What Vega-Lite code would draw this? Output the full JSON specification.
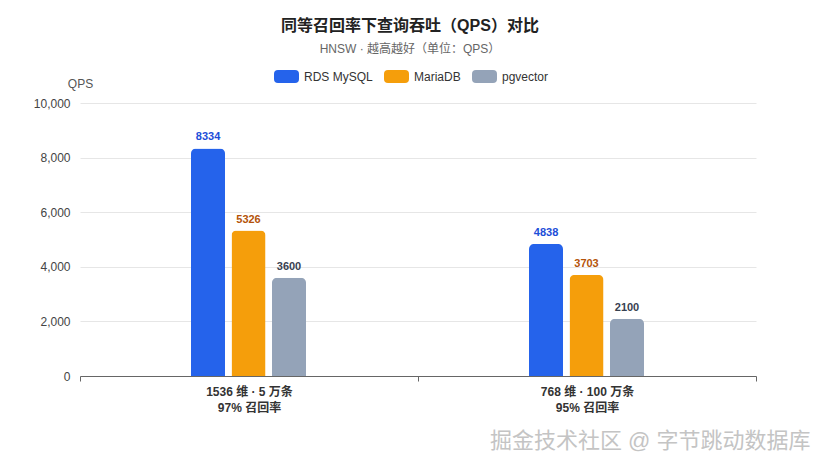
{
  "$schema": "https://vega.github.io/schema/vega-lite/v6.json",
  "width": 676,
  "height": 273,
  "autosize": {"type": "none"},
  "padding": {"left": 80, "top": 103, "right": 63, "bottom": 91},
  "background": "white",
  "title": {
    "text": "同等召回率下查询吞吐（QPS）对比",
    "subtitle": "HNSW · 越高越好（单位：QPS）",
    "fontSize": 16,
    "fontWeight": "bold",
    "color": "#222222",
    "subtitleFontSize": 12,
    "subtitleColor": "#666666",
    "subtitlePadding": 10,
    "anchor": "middle",
    "frame": "group",
    "dx": -8,
    "offset": 9
  },
  "data": {
    "values": [
      {"group": "1536 维 · 5 万条|97% 召回率", "series": "RDS MySQL", "qps": 8334},
      {"group": "1536 维 · 5 万条|97% 召回率", "series": "MariaDB", "qps": 5326},
      {"group": "1536 维 · 5 万条|97% 召回率", "series": "pgvector", "qps": 3600},
      {"group": "768 维 · 100 万条|95% 召回率", "series": "RDS MySQL", "qps": 4838},
      {"group": "768 维 · 100 万条|95% 召回率", "series": "MariaDB", "qps": 3703},
      {"group": "768 维 · 100 万条|95% 召回率", "series": "pgvector", "qps": 2100}
    ]
  },
  "encoding": {
    "x": {
      "field": "group",
      "type": "nominal",
      "sort": null,
      "scale": {"paddingInner": 0, "paddingOuter": 0},
      "axis": {
        "title": "掘金技术社区 @ 字节跳动数据库",
        "titleFontSize": 22,
        "titleFontWeight": "normal",
        "titleColor": "#c4c4c4",
        "titleAlign": "right",
        "titleBaseline": "middle",
        "titleX": 730,
        "titleY": 64,
        "labelAngle": 0,
        "labelExpr": "split(datum.label, '|')",
        "labelFontSize": 12,
        "labelFontWeight": "bold",
        "labelColor": "#333333",
        "labelLineHeight": 16,
        "labelPadding": 5,
        "tickSize": 5,
        "tickBand": "extent",
        "tickColor": "#666666",
        "domainColor": "#666666"
      }
    },
    "xOffset": {
      "field": "series",
      "type": "nominal",
      "scale": {
        "domain": ["RDS MySQL", "MariaDB", "pgvector"],
        "range": [111, 226],
        "paddingInner": 0.16,
        "paddingOuter": 0
      }
    },
    "y": {
      "field": "qps",
      "type": "quantitative",
      "scale": {"domain": [0, 10000]},
      "axis": {
        "title": "QPS",
        "titleAngle": 0,
        "titleX": 0,
        "titleY": -20,
        "titleAlign": "center",
        "titleBaseline": "middle",
        "titleFontSize": 12,
        "titleFontWeight": "normal",
        "titleColor": "#555555",
        "values": [0, 2000, 4000, 6000, 8000, 10000],
        "format": ",d",
        "labelFontSize": 12,
        "labelColor": "#444444",
        "labelPadding": 10,
        "domain": false,
        "ticks": false,
        "gridColor": "#e6e6e6"
      }
    }
  },
  "layer": [
    {
      "mark": {"type": "bar", "cornerRadiusTopLeft": 5, "cornerRadiusTopRight": 5},
      "encoding": {
        "color": {
          "field": "series",
          "type": "nominal",
          "scale": {
            "domain": ["RDS MySQL", "MariaDB", "pgvector"],
            "range": ["#2563eb", "#f59e0b", "#94a3b8"]
          },
          "legend": {
            "title": null,
            "orient": "none",
            "direction": "horizontal",
            "legendX": 194,
            "legendY": -39,
            "symbolType": "M-0.68,-0.52 L0.68,-0.52 Q1,-0.52 1,-0.2 L1,0.2 Q1,0.52 0.68,0.52 L-0.68,0.52 Q-1,0.52 -1,0.2 L-1,-0.2 Q-1,-0.52 -0.68,-0.52 Z",
            "symbolSize": 625,
            "symbolStrokeWidth": 0,
            "labelFontSize": 12,
            "labelColor": "#333333",
            "labelOffset": 5,
            "columnPadding": 11
          }
        }
      }
    },
    {
      "mark": {"type": "text", "baseline": "bottom", "dy": -6, "fontSize": 11, "fontWeight": "bold"},
      "encoding": {
        "text": {"field": "qps", "type": "quantitative", "format": "d"},
        "color": {
          "field": "series",
          "type": "nominal",
          "scale": {
            "domain": ["RDS MySQL", "MariaDB", "pgvector"],
            "range": ["#1d4ed8", "#b45309", "#374151"]
          },
          "legend": null
        }
      }
    }
  ],
  "resolve": {"scale": {"color": "independent"}},
  "config": {
    "view": {"stroke": null},
    "font": "Helvetica, 'Liberation Sans', 'Noto Sans CJK SC', sans-serif"
  }
}
